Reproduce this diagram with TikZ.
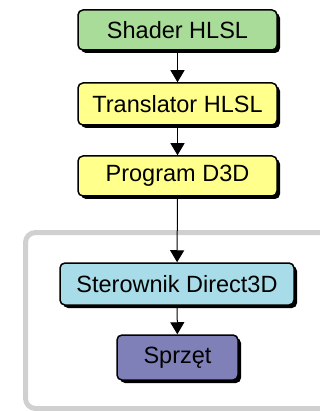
\documentclass[tikz,border=0pt]{standalone}
\usepackage{fontspec}
\setmainfont{Liberation Sans}
\usetikzlibrary{arrows.meta,shadows}
\definecolor{shgreen}{RGB}{168,220,152}
\definecolor{shyellow}{RGB}{255,255,140}
\definecolor{shcyan}{RGB}{168,220,232}
\definecolor{shpurple}{RGB}{128,128,184}
\definecolor{framegray}{RGB}{208,208,208}
\tikzset{
  box/.style={draw=black, line width=1.5pt, rounded corners=5pt, inner sep=0pt,
    font=\fontsize{23.5}{26}\selectfont,
    drop shadow={shadow xshift=3pt, shadow yshift=-3pt, opacity=1, fill=black}},
  arr/.style={draw=black, line width=1pt, -{Triangle[width=14pt,length=12pt]}}
}
\begin{document}
\begin{tikzpicture}[x=1pt,y=-1pt]
\useasboundingbox (0,0) rectangle (320,411);
\clip (0,0) rectangle (320,411);
\draw[line width=5pt, framegray, rounded corners=10pt] (25.5,232.5) rectangle (350,408.5);
\node[box, fill=shgreen, minimum width=199pt, minimum height=40pt] (shader) at (177.5,30) {Shader HLSL};
\node[box, fill=shyellow, minimum width=199pt, minimum height=42pt] (trans) at (177.5,104) {Translator HLSL};
\node[box, fill=shyellow, minimum width=199pt, minimum height=40pt] (prog) at (177.5,176) {Program D3D};
\node[box, fill=shcyan, minimum width=234pt, minimum height=42pt] (drv) at (177,284) {Sterownik Direct3D};
\node[box, fill=shpurple, minimum width=121pt, minimum height=45pt] (hw) at (177.5,357.5) {Sprzęt};
\draw[arr] (shader) -- (trans);
\draw[arr] (trans) -- (prog);
\draw[arr] (prog) -- (drv);
\draw[arr] (drv) -- (hw);
\end{tikzpicture}
\end{document}
